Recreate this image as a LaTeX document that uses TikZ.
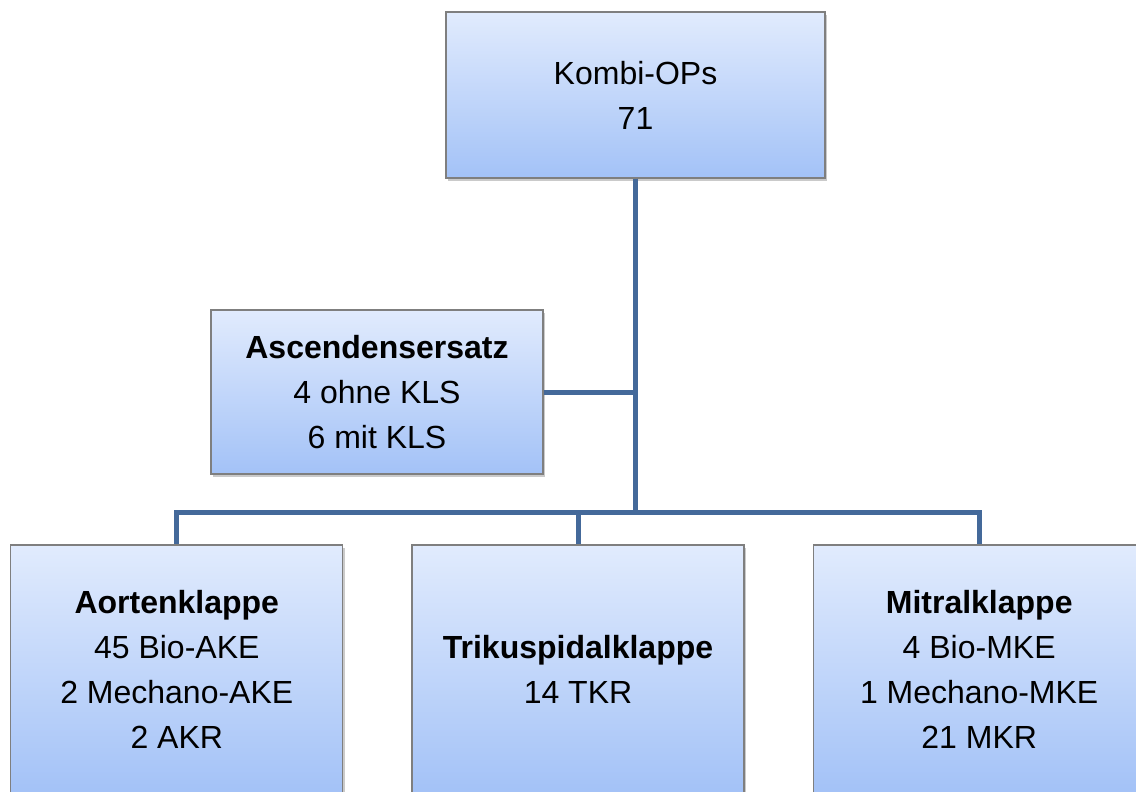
\documentclass[tikz,border=0pt]{standalone}
\usepackage{fontspec}
\setmainfont{Liberation Sans}
\usetikzlibrary{positioning,shadows}
\definecolor{boxtop}{HTML}{E1EBFD}
\definecolor{boxbottom}{HTML}{A3C2F7}
\definecolor{boxline}{HTML}{7F7F7F}
\definecolor{linkblue}{HTML}{44699A}

\begin{document}
\begin{tikzpicture}[
    x=1pt, y=1pt,
    opbox/.style={draw=boxline, line width=1.2pt, top color=boxtop, bottom color=boxbottom,
        inner sep=0pt, align=center, font=\fontsize{32}{45}\selectfont,
        drop shadow={shadow xshift=2pt, shadow yshift=-3pt, opacity=0.35, fill=black!60}},
    link/.style={line width=5pt, color=linkblue},
]
\useasboundingbox (0,0) rectangle (1136,-792);
\clip (0,0) rectangle (1136,-792);

\node[opbox, minimum width=379pt, minimum height=166pt] (kombi) at (635.5,-95) {Kombi-OPs\\71};
\node[opbox, minimum width=332pt, minimum height=164pt] (asc) at (377,-392) {\textbf{Ascendensersatz}\\4 ohne KLS\\6 mit KLS};

\node[opbox, minimum width=332pt, minimum height=248pt] (trik) at (578,-669) {\textbf{Trikuspidalklappe}\\14 TKR};
\node[opbox, minimum width=332pt, minimum height=248pt, left=68pt of trik] (aorta) {\textbf{Aortenklappe}\\45 Bio-AKE\\2 Mechano-AKE\\2 AKR};
\node[opbox, minimum width=332pt, minimum height=248pt, right=68pt of trik] (mitral) {\textbf{Mitralklappe}\\4 Bio-MKE\\1 Mechano-MKE\\21 MKR};

\coordinate (bus) at (0,-512);

\foreach \k in {aorta, trik, mitral} {
    \draw[link] (kombi.south) -- (kombi.south |- bus) -| (\k.north);
}
\draw[link] (asc.east) -- (asc.east -| kombi.south);

\end{tikzpicture}
\end{document}
